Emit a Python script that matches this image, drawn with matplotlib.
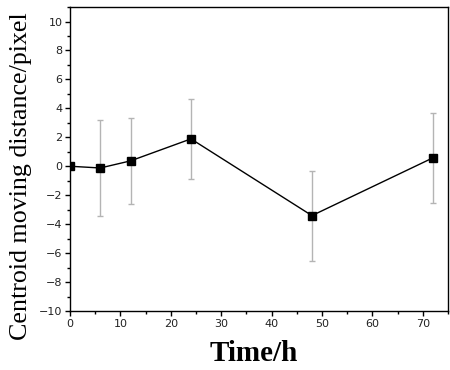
import numpy as np
import matplotlib.pyplot as plt
from matplotlib.ticker import MultipleLocator

# centroid displacement over time
time_h = [0, 6, 12, 24, 48, 72]
distance = [0.0, -0.12, 0.37, 1.89, -3.41, 0.58]
error = [0.0, 3.3, 2.95, 2.76, 3.11, 3.12]


def plot_centroid():
    fig = plt.figure(figsize=(4.5, 3.7), dpi=100)
    ax = fig.add_axes([0.1556, 0.1595, 0.84, 0.8215])

    ax.errorbar(time_h, distance, yerr=error, fmt='none', ecolor='#b4b4b4',
                elinewidth=1.0, capsize=2.5, capthick=1.0, zorder=1)
    ax.plot(time_h, distance, color='black', linewidth=1.0, marker='s',
            markersize=5.5, zorder=2)

    ax.set_xlim(0, 75)
    ax.set_ylim(-10, 11)
    ax.xaxis.set_major_locator(MultipleLocator(10))
    ax.xaxis.set_minor_locator(MultipleLocator(5))
    ax.yaxis.set_major_locator(MultipleLocator(2))
    ax.yaxis.set_minor_locator(MultipleLocator(1))

    ax.tick_params(which='both', direction='out', top=False, right=False,
                   labelsize=8, labelcolor='#222222', width=1.0)
    ax.tick_params(which='major', length=3.5, pad=2)
    ax.tick_params(which='minor', length=2)
    for s in ax.spines.values():
        s.set_linewidth(1.0)

    ax.set_xlabel("Time/h", family='Liberation Serif', fontsize=21,
                  fontweight='bold')
    ax.xaxis.set_label_coords(0.485, -0.095)
    ax.set_ylabel("Centroid moving distance/pixel", family='Liberation Serif',
                  fontsize=18.7)
    ax.yaxis.set_label_coords(-0.1, 0.444)

    fig.savefig("out.png", dpi=100)


if __name__ == "__main__":
    plot_centroid()
